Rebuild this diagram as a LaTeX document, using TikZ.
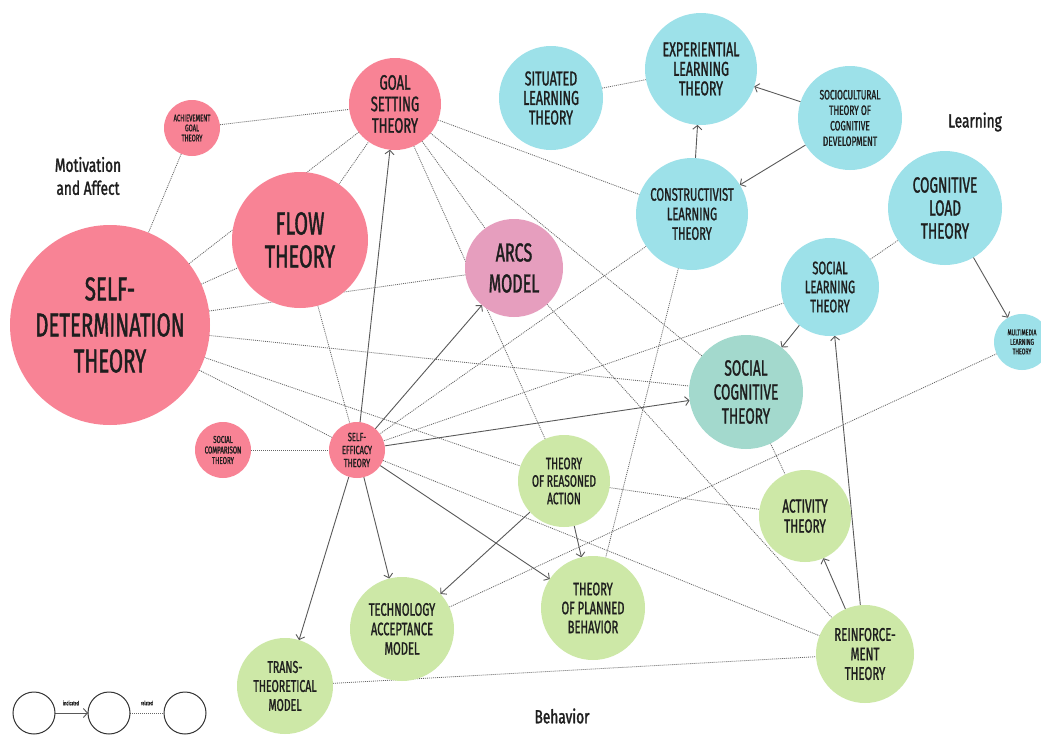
\documentclass[tikz,border=0pt]{standalone}
\usepackage{fontspec}
\newfontfamily\cond{Fira Sans}[FakeStretch=0.62,FakeBold=1.2]
\newfontfamily\condb{Fira Sans}[FakeStretch=0.72,FakeBold=1.6]
\usetikzlibrary{arrows.meta}
\pgfdeclarelayer{back}
\pgfdeclarelayer{bg}
\pgfsetlayers{back,bg,main}
\definecolor{cpink}{HTML}{F88395}
\definecolor{carcs}{HTML}{E69EBE}
\definecolor{ccyan}{HTML}{9DE1E9}
\definecolor{cteal}{HTML}{A3D9CD}
\definecolor{cgreen}{HTML}{CDE8A7}
\definecolor{ctext}{HTML}{1E1E1E}
\newcommand\fsz[2]{\fontsize{#1}{#2}\selectfont}
\tikzset{
  th/.style={circle, draw=none, inner sep=0pt, outer sep=0pt, align=center, text=ctext},
  rad/.style={minimum size=2*#1 pt},
  fs/.style 2 args={font={\cond\fsz{#1}{#2}}},
  rel/.style={draw=black!60, line width=0.8pt, dash pattern=on 1pt off 1pt},
  ind/.style={draw=black!65, line width=0.9pt, -{Straight Barb[length=4pt,width=9pt]}},
  lg/.style={circle, draw=black!80, line width=1pt, fill=white, minimum size=42pt, inner sep=0pt, outer sep=0pt},
  grp/.style={font={\condb\fsz{19}{23}}, align=center, text=ctext}
}
\begin{document}
\begin{tikzpicture}[x=1pt,y=-1pt]
\begin{pgfonlayer}{back}
\fill[white] (0,0) rectangle (1041,736);
\end{pgfonlayer}
\useasboundingbox (0,0) rectangle (1041,736);
% nodes
\node[th, fill=cpink, rad=100, fs={33}{36}] (sdt) at (110,325) {SELF-\\DETERMINATION\\THEORY};
\node[th, fill=cpink, rad=68, fs={32}{33}] (flow) at (300,240) {FLOW\\THEORY};
\node[th, fill=cpink, rad=46, fs={21}{21.5}] (goal) at (395,104) {GOAL\\SETTING\\THEORY};
\node[th, fill=cpink, rad=28, fs={9.5}{10}] (ach) at (192,128) {ACHIEVEMENT\\GOAL\\THEORY};
\node[th, fill=carcs, rad=49, fs={26}{31}] (arcs) at (514,268) {ARCS\\MODEL};
\node[th, fill=cpink, rad=28, fs={10}{10.5}] (scomp) at (223,450) {SOCIAL\\COMPARISON\\THEORY};
\node[th, fill=cpink, rad=28, fs={12}{13}] (se) at (357,450) {SELF-\\EFFICACY\\THEORY};
\node[th, fill=ccyan, rad=52, fs={20}{19.5}] (sit) at (551,98) {SITUATED\\LEARNING\\THEORY};
\node[th, fill=ccyan, rad=56, fs={20}{19.5}] (exp) at (701,69) {EXPERIENTIAL\\LEARNING\\THEORY};
\node[th, fill=ccyan, rad=52, fs={13.5}{15.5}] (soc) at (850,118) {SOCIOCULTURAL\\THEORY OF\\COGNITIVE\\DEVELOPMENT};
\node[th, fill=ccyan, rad=56, fs={18}{19.5}] (con) at (692,214) {CONSTRUCTIVIST\\LEARNING\\THEORY};
\node[th, fill=ccyan, rad=57, fs={22}{23}] (clt) at (945,208) {COGNITIVE\\LOAD\\THEORY};
\node[th, fill=ccyan, rad=49, fs={18}{19}] (slt) at (830,287) {SOCIAL\\LEARNING\\THEORY};
\node[th, fill=ccyan, rad=28, fs={8.5}{9.5}] (mm) at (1022,342) {MULTIMEDIA\\LEARNING\\THEORY};
\node[th, fill=cteal, rad=57, fs={22}{24}] (sct) at (746,392) {SOCIAL\\COGNITIVE\\THEORY};
\node[th, fill=cgreen, rad=46, fs={19}{20}] (act) at (805,516) {ACTIVITY\\THEORY};
\node[th, fill=cgreen, rad=49, fs={18.5}{19.5}] (rein) at (865,654) {REINFORCE-\\MENT\\THEORY};
\node[th, fill=cgreen, rad=46, fs={16.5}{17.5}] (tra) at (564,481) {THEORY\\OF REASONED\\ACTION};
\node[th, fill=cgreen, rad=52, fs={18}{19}] (tpb) at (593,608) {THEORY\\OF PLANNED\\BEHAVIOR};
\node[th, fill=cgreen, rad=52, fs={18}{19.5}] (tam) at (402,629) {TECHNOLOGY\\ACCEPTANCE\\MODEL};
\node[th, fill=cgreen, rad=48, fs={17}{19}] (ttm) at (285,686) {TRANS-\\THEORETICAL\\MODEL};
% group labels
\node[grp] (lmot) at (88,176) {Motivation\\and Affect};
\node[grp] (llearn) at (975,122) {Learning};
\node[grp] (lbeh) at (562,716) {Behavior};
% legend
\node[lg] (l1) at (34,713) {};
\node[lg] (l2) at (109,713) {};
\node[lg] (l3) at (185,713) {};
\node[font={\cond\fsz{6}{6}}, text=ctext] (tind) at (71,703) {indicated};
\node[font={\cond\fsz{6}{6}}, text=ctext] (trel) at (147,703) {related};
% edges
\begin{pgfonlayer}{bg}
\draw[rel] (ach) -- (goal);
\draw[rel] (ach) -- (sdt);
\draw[rel] (sdt) -- (goal);
\draw[rel] (flow) -- (goal);
\draw[rel] (sdt) -- (flow);
\draw[rel] (sdt) -- (arcs);
\draw[rel] (sdt) -- (sct);
\draw[rel] (sdt) -- (tra);
\draw[rel] (sdt) -- (se);
\draw[rel] (flow) -- (se);
\draw[rel] (scomp) -- (se);
\draw[rel] (goal) -- (tra);
\draw[rel] (goal) -- (arcs);
\draw[rel] (goal) -- (sct);
\draw[rel] (goal) -- (con);
\draw[rel] (arcs) -- (rein);
\draw[rel] (con) -- (se);
\draw[rel] (con) -- (tpb);
\draw[rel] (sit) -- (exp);
\draw[rel] (slt) -- (clt);
\draw[rel] (slt) -- (se);
\draw[rel] (mm) -- (tam);
\draw[rel] (sct) -- (act);
\draw[rel] (tra) -- (act);
\draw[rel] (se) -- (rein);
\draw[rel] (ttm) -- (rein);
\draw[rel] (l2) -- (l3);
\draw[ind] (se) -- (goal);
\draw[ind] (se) -- (arcs);
\draw[ind] (se) -- (sct);
\draw[ind] (se) -- (tam);
\draw[ind] (se) -- (tpb);
\draw[ind] (se) -- (ttm);
\draw[ind] (tra) -- (tam);
\draw[ind] (tra) -- (tpb);
\draw[ind] (con) -- (exp);
\draw[ind] (soc) -- (exp);
\draw[ind] (soc) -- (con);
\draw[ind] (clt) -- (mm);
\draw[ind] (slt) -- (sct);
\draw[ind] (rein) -- (slt);
\draw[ind] (rein) -- (act);
\draw[ind] (l1) -- (l2);
\end{pgfonlayer}
\end{tikzpicture}
\end{document}
